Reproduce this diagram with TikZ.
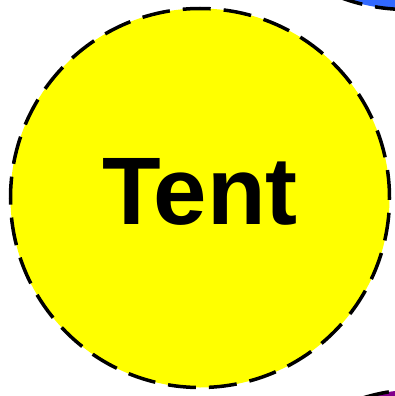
\documentclass[tikz,border=0pt]{standalone}
\usepackage{fontspec}
\setmainfont{Liberation Sans}
\usepackage{tikz}
\usetikzlibrary{positioning}
\definecolor{tnYellow}{RGB}{255,255,0}
\definecolor{tnBlue}{RGB}{50,105,255}
\definecolor{tnPurple}{RGB}{130,0,140}

\begin{document}
\begin{tikzpicture}[
    x=1pt, y=-1pt,
    bubble/.style={circle, draw=black, line width=3.5pt,
                   dash pattern=on 28pt off 13pt, minimum size=379pt,
                   inner sep=0pt},
    label/.style={font=\bfseries\fontsize{96}{96}\selectfont, inner sep=0pt}
]
\useasboundingbox (0,0) rectangle (395,396);
\clip (0,0) rectangle (395,396);
% neighbouring bubbles, cut by the frame
\node[bubble, fill=tnBlue] (camp) at (407,-180) {};
\node[bubble, fill=tnPurple] (fire) at (419,579) {};
% main bubble
\node[bubble, fill=tnYellow] (tent) at (200,198) {};
\node[label] (tentlbl) at (200,191.5) {Tent};
\end{tikzpicture}
\end{document}
